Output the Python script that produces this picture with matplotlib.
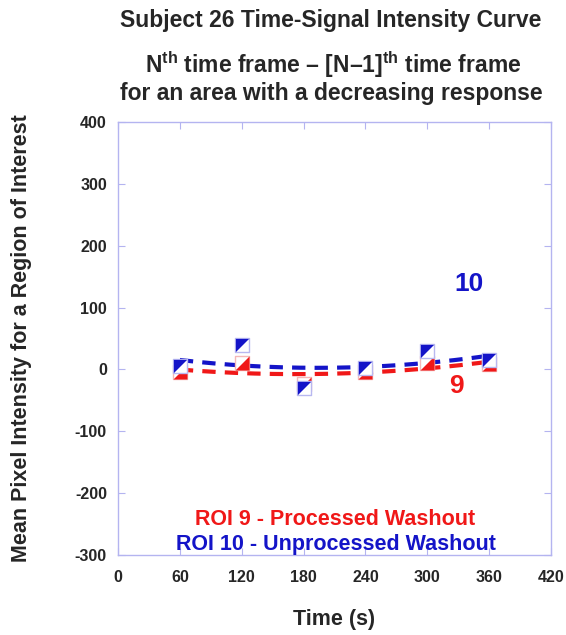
import matplotlib.pyplot as plt
import numpy as np
from matplotlib.path import Path

plt.rcParams["font.family"] = ["Liberation Sans", "DejaVu Sans"]
plt.rcParams["font.weight"] = "bold"
plt.rcParams["axes.unicode_minus"] = False
plt.rcParams["mathtext.fontset"] = "custom"
plt.rcParams["mathtext.bf"] = "Liberation Sans:bold"
plt.rcParams["mathtext.rm"] = "Liberation Sans:bold"

# time points (s)
time_s = [60, 120, 180, 240, 300, 360]
# ROI 9 - processed washout (red)
roi9 = [-5, 10, -24, -5, 10, 9]
# ROI 10 - unprocessed washout (blue)
roi10 = [5, 40, -30, 2, 29, 15]

x_ticks = [0, 60, 120, 180, 240, 300, 360, 420]
y_ticks = [-300, -200, -100, 0, 100, 200, 300, 400]

red = "#f01818"
blue = "#1414c8"
frame = "#b4b4f0"
dark = "#262626"

# half-filled square markers (diagonal split)
upper_left = Path([(-1, 1), (1, 1), (-1, -1), (-1, 1)], closed=True)
lower_right = Path([(-1, -1), (1, -1), (1, 1), (-1, -1)], closed=True)
square = Path([(-1, -1), (1, -1), (1, 1), (-1, 1), (-1, -1)], closed=True)

fig = plt.figure(figsize=(5.66, 6.35), dpi=100)
ax = fig.add_axes([0.2085, 0.126, 0.765, 0.682])

t = np.array(time_s)
t_fit = np.linspace(60, 360, 200)

# Fit lines (quadratic)
for vals, col in [(roi9, red), (roi10, blue)]:
    coef = np.polyfit(t, vals, 2)
    ax.plot(t_fit, np.polyval(coef, t_fit), color=col, lw=3,
            linestyle=(0, (3.2, 2.2)), zorder=2)

ms = 10.5
# ROI 9 markers
ax.plot(t, roi9, linestyle="none", marker=square, ms=ms, mfc="white",
        mec="#f4b8b8", mew=1, zorder=3)
ax.plot(t, roi9, linestyle="none", marker=lower_right, ms=ms - 1, mfc=red,
        mec="none", zorder=3)
# ROI 10 markers
ax.plot(t, roi10, linestyle="none", marker=square, ms=ms, mfc="white",
        mec="#b8b8f0", mew=1, zorder=4)
ax.plot(t, roi10, linestyle="none", marker=upper_left, ms=ms - 1, mfc=blue,
        mec="none", zorder=4)

ax.set_xlim(0, 420)
ax.set_ylim(-300, 400)
ax.set_xticks(x_ticks)
ax.set_yticks(y_ticks)
for s in ax.spines.values():
    s.set_color(frame)
    s.set_linewidth(1)
ax.tick_params(direction="in", length=5, color=frame, top=True, right=True,
               labelsize=11.5, labelcolor=dark)
ax.tick_params(axis="x", pad=11)
ax.tick_params(axis="y", pad=8)

ax.set_xlabel("Time (s)", fontsize=15.5, fontweight="bold", color=dark,
              va="center")
ax.xaxis.set_label_coords(0.5, -0.15)
ax.set_ylabel("Mean Pixel Intensity for a Region of Interest", fontsize=15.5,
              fontweight="bold", color=dark, va="center")
ax.yaxis.set_label_coords(-0.222, 0.5)

fig.text(0.585, 0.968, "Subject 26 Time-Signal Intensity Curve", ha="center",
         va="center", fontsize=16.5, fontweight="bold", color=dark)
fig.text(0.588, 0.898, r"N$^{\mathbf{th}}$ time frame – [N–1]$^{\mathbf{th}}$ time frame",
         ha="center", va="center", fontsize=16.5, fontweight="bold", color=dark)
fig.text(0.585, 0.853, "for an area with a decreasing response", ha="center",
         va="center", fontsize=16.5, fontweight="bold", color=dark)

ax.text(340, 138, "10", color=blue, fontsize=19, fontweight="bold",
        ha="center", va="center")
ax.text(328, -27, "9", color=red, fontsize=19, fontweight="bold",
        ha="center", va="center")
ax.text(211, -243, "ROI 9 - Processed Washout", color=red, fontsize=15.5,
        fontweight="bold", ha="center", va="center")
ax.text(211, -283, "ROI 10 - Unprocessed Washout", color=blue, fontsize=15.5,
        fontweight="bold", ha="center", va="center")

fig.savefig("out.png", dpi=100, facecolor="white")
